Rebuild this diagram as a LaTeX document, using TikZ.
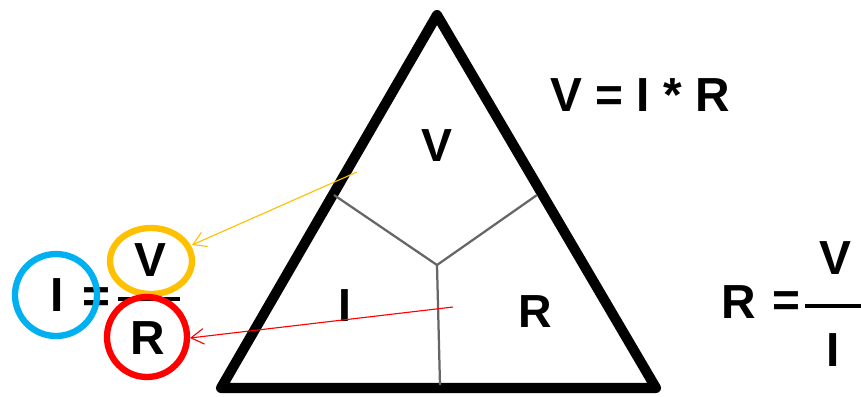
\documentclass[tikz,border=0pt]{standalone}
\usepackage{fontspec}
\setmainfont{Liberation Sans}
\usepackage{tikz}
\usetikzlibrary{arrows.meta,positioning,calc}
\definecolor{ringblue}{HTML}{00B0F0}
\definecolor{ringgold}{HTML}{FFC000}
\definecolor{ringred}{HTML}{FF0000}

\tikzset{
  letter/.style={font=\fontsize{33}{33}\selectfont\bfseries,inner sep=0pt},
  bigletter/.style={font=\fontsize{34}{34}\selectfont\bfseries,inner sep=0pt},
  ring/.style={line width=4.5pt},
  pointer/.style={line width=0.8pt,-{Straight Barb[length=9pt,width=11pt]}}
}

\begin{document}
\begin{tikzpicture}[x=0.025cm,y=-0.025cm]
  \useasboundingbox (0,0) rectangle (861,396);
  % triangle
  \draw[line width=7.2pt,line join=round] (437,15) -- (221,388) -- (656,388) -- cycle;
  \coordinate (hub) at (437,265);
  \draw[gray!80!black,line width=1.6pt] (334,195) -- (hub) -- (537,195);
  \draw[gray!80!black,line width=1.6pt] (hub) -- (440,385);
  \node[letter] (tV) at (437,146) {V};
  \node[letter] (tI) at (345,306) {I};
  \node[letter] (tR) at (535,312) {R};

  % product
  \node[bigletter] (prod) at (640,95) {V = I * R};

  % current
  \node[bigletter] (lI) at (57,295) {I};
  \node[bigletter] (lEq) at (96,300) {=};
  \node[bigletter] (lV) at (150,260) {V};
  \node[bigletter] (lR) at (148,338) {R};
  \draw[line width=3.5pt] (118,299) -- (180,299);
  \draw[ringblue,ring] (56,295) circle (41);
  \draw[ringgold,ring] (151,261) ellipse (41 and 33);
  \draw[ringred,ring] (147,337) circle (40);
  \coordinate (inV) at (357,172);
  \coordinate (inR) at (453,307);
  \coordinate (tipV) at (192,245);
  \coordinate (tipR) at (190,338);
  \draw[pointer,ringgold] (inV) -- (tipV);
  \draw[pointer,ringred] (inR) -- (tipR);

  % resistance
  \node[bigletter] (rR) at (739,302) {R};
  \node[bigletter] (rEq) at (786,304) {=};
  \draw[line width=3.5pt] (805,306) -- (861,306);
  \node[bigletter] (rV) at (835,258) {V};
  \node[bigletter] (rI) at (833,350) {I};
\end{tikzpicture}
\end{document}
